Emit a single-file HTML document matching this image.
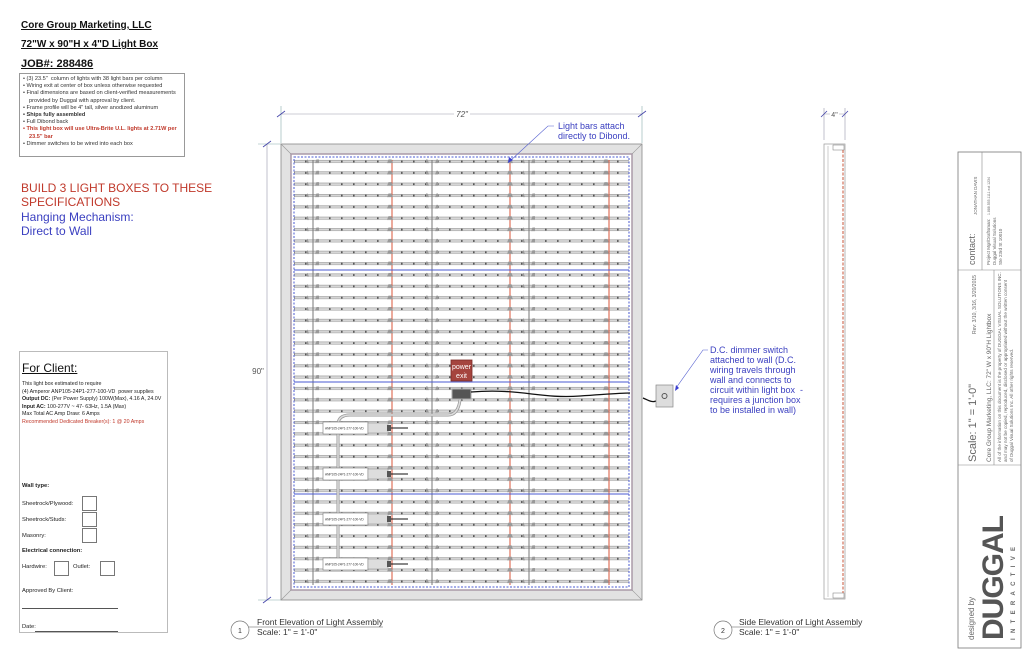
<!DOCTYPE html>
<html><head><meta charset="utf-8"><style>
html,body{margin:0;padding:0;background:#fff;}
body{width:1024px;height:663px;position:relative;overflow:hidden;font-family:"Liberation Sans",Arial,sans-serif;}
.a{position:absolute;white-space:nowrap;}
.h{font-weight:bold;font-size:10px;text-decoration:underline;color:#111;}
.spec{position:absolute;left:19px;top:73px;width:166px;height:84px;border:1px solid #999;font-size:5.6px;line-height:7.2px;color:#333;box-sizing:border-box;padding:2px 3px;}
.spec div{padding-left:6px;text-indent:-6px;}
.client{position:absolute;left:19px;top:351px;width:149px;height:282px;border:1px solid #bbb;box-sizing:border-box;font-size:5.8px;color:#222;}
.cb{position:absolute;width:15px;height:15px;border:1px solid #777;box-sizing:border-box;}
</style></head><body>
<div class="a h" style="left:21px;top:20px;">Core Group Marketing, LLC</div>
<div class="a h" style="left:21px;top:39px;">72"W x 90"H x 4"D Light Box</div>
<div class="a h" style="left:21px;top:58px;font-size:11px;">JOB#: 288486</div>
<div class="spec">
<div>• (3) 23.5"&nbsp;&nbsp;column of lights with 38 light bars per column</div>
<div>• Wiring exit at center of box unless otherwise requested</div>
<div>• Final dimensions are based on client-verified measurements provided by Duggal with approval by client.</div>
<div>• Frame profile will be 4" tall, silver anodized aluminum</div>
<div style="font-weight:bold">• Ships fully assembled</div>
<div>• Full Dibond back</div>
<div style="font-weight:bold;color:#c0392b">• This light box will use Ultra-Brite U.L. lights at 2.71W per 23.5" bar</div>
<div>• Dimmer switches to be wired into each box</div>
</div>
<div class="a" style="left:21px;top:181px;font-size:12px;line-height:14px;color:#c0392b;">BUILD 3 LIGHT BOXES TO THESE<br>SPECIFICATIONS</div>
<div class="a" style="left:21px;top:210px;font-size:12px;line-height:14px;color:#3a3fc0;">Hanging Mechanism:<br>Direct to Wall</div>

<div class="client">
<div class="a" style="left:2px;top:9px;font-size:12px;text-decoration:underline;color:#111;">For Client:</div>
<div class="a" style="left:2px;top:29px;line-height:7.5px;font-size:5.3px;">This light box estimated to require<br>(4) Amperor ANP105-24P1-277-100-VD&nbsp; power supplies<br><b>Output DC:</b> (Per Power Supply) 100W(Max), 4.16 A, 24.0V<br><b>Input AC:</b> 100-277V ~ 47- 63Hz, 1.5A (Max)<br>Max Total AC Amp Draw: 6 Amps<br><span style="color:#c0392b">Recommended Dedicated Breaker(s): 1 @ 20 Amps</span></div>
<div class="a" style="left:2px;top:131px;font-weight:bold;">Wall type:</div>
<div class="a" style="left:2px;top:149px;">Sheetrock/Plywood:</div>
<div class="a" style="left:2px;top:165px;">Sheetrock/Studs:</div>
<div class="a" style="left:2px;top:181px;">Masonry:</div>
<div class="cb" style="left:62px;top:144px;"></div>
<div class="cb" style="left:62px;top:160px;"></div>
<div class="cb" style="left:62px;top:176px;"></div>
<div class="a" style="left:2px;top:196px;font-weight:bold;">Electrical connection:</div>
<div class="a" style="left:2px;top:212px;">Hardwire:</div>
<div class="a" style="left:53px;top:212px;">Outlet:</div>
<div class="cb" style="left:34px;top:209px;"></div>
<div class="cb" style="left:80px;top:209px;"></div>
<div class="a" style="left:2px;top:236px;">Approved By Client:</div>
<div class="a" style="left:2px;top:256px;width:96px;border-top:1px solid #555;"></div>
<div class="a" style="left:2px;top:272px;">Date:</div>
<div class="a" style="left:15px;top:279px;width:83px;border-top:1px solid #555;"></div>
</div>

<svg width="1024" height="663" style="position:absolute;left:0;top:0" xmlns="http://www.w3.org/2000/svg" font-family="Liberation Sans, Arial, sans-serif">
<defs>
<pattern id="rows" x="0" y="156" width="12" height="11.35" patternUnits="userSpaceOnUse">
<rect x="0" y="4.3" width="12" height="2.4" fill="#d6d6d6"/>
<line x1="0" y1="4.3" x2="12" y2="4.3" stroke="#888" stroke-width="0.5"/>
<line x1="0" y1="6.7" x2="12" y2="6.7" stroke="#999" stroke-width="0.5"/>
<rect x="5" y="4.6" width="1.6" height="1.8" fill="#555"/>
</pattern>
<pattern id="nodes" x="0" y="156" width="12" height="11.35" patternUnits="userSpaceOnUse">
<path d="M3,7 L4.5,3.5 L7.5,3.5 L9,7 Z" fill="#999"/>
</pattern>
</defs>
<g stroke="#8aa" stroke-width="0.6" fill="none">
<line x1="281" y1="114" x2="642" y2="114" stroke="#99a"/>
<line x1="281" y1="106" x2="281" y2="143"/><line x1="642" y1="106" x2="642" y2="143"/>
<line x1="267" y1="144" x2="267" y2="600" stroke="#99a"/>
<line x1="258" y1="144" x2="281" y2="144"/><line x1="258" y1="600" x2="281" y2="600"/>
</g>
<g stroke="#44a" stroke-width="0.8"><line x1="277" y1="117" x2="285" y2="111"/><line x1="638" y1="117" x2="646" y2="111"/>
<line x1="263" y1="147" x2="271" y2="141"/><line x1="263" y1="603" x2="271" y2="597"/></g>
<rect x="454" y="109" width="16" height="9" fill="#fff"/>
<text x="462" y="117" font-size="8" fill="#555" text-anchor="middle" font-style="italic">72"</text>
<rect x="251" y="366" width="14" height="10" fill="#fff"/>
<text x="258" y="374" font-size="8" fill="#555" text-anchor="middle">90"</text>
<rect x="281" y="144" width="361" height="456" fill="#e2e2e2" stroke="#888" stroke-width="0.8"/>
<rect x="291" y="154" width="341" height="436" fill="#fff" stroke="#aa9aa8" stroke-width="1.5"/>
<g stroke="#999" stroke-width="0.6"><line x1="281" y1="144" x2="291" y2="154"/><line x1="642" y1="144" x2="632" y2="154"/><line x1="281" y1="600" x2="291" y2="590"/><line x1="642" y1="600" x2="632" y2="590"/></g>
<rect x="294" y="157" width="335" height="430" fill="url(#rows)"/>
<rect x="294" y="157" width="335" height="430" fill="none" stroke="#4a5ad0" stroke-width="1" stroke-dasharray="2,1.5"/>
<g stroke-width="1">
<line x1="313" y1="160" x2="313" y2="585" stroke="#777"/>
<line x1="432" y1="160" x2="432" y2="585" stroke="#777"/>
<line x1="529" y1="160" x2="529" y2="585" stroke="#777"/>
<line x1="392" y1="160" x2="392" y2="585" stroke="#d9553a"/>
<line x1="510" y1="160" x2="510" y2="585" stroke="#d9553a"/>
<line x1="609" y1="160" x2="609" y2="585" stroke="#d9553a"/>
</g>
<g>
<rect x="307" y="157" width="12" height="430" fill="url(#nodes)"/>
<rect x="386" y="157" width="12" height="430" fill="url(#nodes)"/>
<rect x="426" y="157" width="12" height="430" fill="url(#nodes)"/>
<rect x="504" y="157" width="12" height="430" fill="url(#nodes)"/>
<rect x="523" y="157" width="12" height="430" fill="url(#nodes)"/>
<rect x="603" y="157" width="12" height="430" fill="url(#nodes)"/>
</g>
<g stroke="#4a5ad0" stroke-width="0.9"><line x1="294" y1="270" x2="629" y2="270"/><line x1="294" y1="382" x2="629" y2="382"/><line x1="294" y1="494" x2="629" y2="494"/></g>
<path d="M338,564 L338,425 Q338,415 350,415 L448,415 Q458,415 460,400" fill="none" stroke="#999" stroke-width="3"/>
<path d="M338,564 L338,425 Q338,415 350,415 L448,415 Q458,415 460,400" fill="none" stroke="#ddd" stroke-width="1.5"/>
<g font-size="3.2" fill="#333">
<g transform="translate(0,428)"><rect x="323" y="-6" width="45" height="12" fill="#fff" stroke="#777" stroke-width="0.6"/><rect x="368" y="-5" width="20" height="10" fill="#ddd" stroke="#888" stroke-width="0.5"/><rect x="387" y="-3" width="4" height="6" fill="#555"/><line x1="391" y1="0" x2="408" y2="0" stroke="#111" stroke-width="1"/><text x="325" y="1.5">ANP105-24P1-277-100-VD</text></g>
<g transform="translate(0,474)"><rect x="323" y="-6" width="45" height="12" fill="#fff" stroke="#777" stroke-width="0.6"/><rect x="368" y="-5" width="20" height="10" fill="#ddd" stroke="#888" stroke-width="0.5"/><rect x="387" y="-3" width="4" height="6" fill="#555"/><line x1="391" y1="0" x2="408" y2="0" stroke="#111" stroke-width="1"/><text x="325" y="1.5">ANP105-24P1-277-100-VD</text></g>
<g transform="translate(0,519)"><rect x="323" y="-6" width="45" height="12" fill="#fff" stroke="#777" stroke-width="0.6"/><rect x="368" y="-5" width="20" height="10" fill="#ddd" stroke="#888" stroke-width="0.5"/><rect x="387" y="-3" width="4" height="6" fill="#555"/><line x1="391" y1="0" x2="408" y2="0" stroke="#111" stroke-width="1"/><text x="325" y="1.5">ANP105-24P1-277-100-VD</text></g>
<g transform="translate(0,564)"><rect x="323" y="-6" width="45" height="12" fill="#fff" stroke="#777" stroke-width="0.6"/><rect x="368" y="-5" width="20" height="10" fill="#ddd" stroke="#888" stroke-width="0.5"/><rect x="387" y="-3" width="4" height="6" fill="#555"/><line x1="391" y1="0" x2="408" y2="0" stroke="#111" stroke-width="1"/><text x="325" y="1.5">ANP105-24P1-277-100-VD</text></g>
</g>
<rect x="452" y="389" width="19" height="10" fill="#555" stroke="#aaa" stroke-width="1"/>
<path d="M471,392 C520,388 540,399 580,396 C610,394 620,393 630,393 M643,398 C648,400 652,403 656,401" fill="none" stroke="#111" stroke-width="1.3"/>
<rect x="451" y="360" width="21" height="21" fill="#a5443e" stroke="#7a2a25" stroke-width="0.8"/>
<text x="461.5" y="369" font-size="7" fill="#fff" text-anchor="middle">power</text>
<text x="461.5" y="378" font-size="7" fill="#fff" text-anchor="middle">exit</text>
<rect x="656" y="385" width="17" height="22" fill="#ddd" stroke="#888" stroke-width="0.7"/>
<circle cx="664.5" cy="396" r="2.5" fill="none" stroke="#555" stroke-width="1"/>
<polyline points="676,388 703,350 708,350" fill="none" stroke="#5560d0" stroke-width="0.6"/>
<path d="M675,391 L676,385 L679,388 Z" fill="#3a3fd0"/>
<text font-size="9" fill="#3a3fc0"><tspan x="710" y="353">D.C. dimmer switch</tspan><tspan x="710" y="363">attached to wall (D.C.</tspan><tspan x="710" y="373">wiring travels through</tspan><tspan x="710" y="383">wall and connects to</tspan><tspan x="710" y="393">circuit within light box&#160; -</tspan><tspan x="710" y="403">requires a junction box</tspan><tspan x="710" y="413">to be installed in wall)</tspan></text>
<polyline points="510,161 548,126 554,126" fill="none" stroke="#5560d0" stroke-width="0.6"/>
<path d="M508,163 L509,157 L513,160 Z" fill="#3a3fd0"/>
<text font-size="9" fill="#3a3fc0"><tspan x="558" y="129">Light bars attach</tspan><tspan x="558" y="139">directly to Dibond.</tspan></text>
<g stroke="#99a" stroke-width="0.6"><line x1="824" y1="114" x2="845" y2="114"/><line x1="824" y1="108" x2="824" y2="140"/><line x1="845" y1="108" x2="845" y2="140"/></g>
<g stroke="#44a" stroke-width="0.8"><line x1="821" y1="117" x2="827" y2="111"/><line x1="842" y1="117" x2="848" y2="111"/></g>
<rect x="830" y="109" width="9" height="9" fill="#fff"/>
<text x="834.5" y="117" font-size="7" fill="#555" text-anchor="middle">4"</text>
<rect x="824" y="144" width="21" height="455" fill="none" stroke="#999" stroke-width="0.7"/>
<line x1="828" y1="146" x2="828" y2="597" stroke="#aaa" stroke-width="0.6"/>
<rect x="833" y="145" width="11" height="5" fill="none" stroke="#777" stroke-width="0.5"/>
<rect x="833" y="593" width="11" height="5" fill="none" stroke="#777" stroke-width="0.5"/>
<line x1="843" y1="150" x2="843" y2="593" stroke="#c8553a" stroke-width="1" stroke-dasharray="3,1.5"/>
<circle cx="240" cy="630" r="9" fill="#fff" stroke="#777" stroke-width="0.7"/>
<text x="240" y="633" font-size="7" text-anchor="middle" fill="#333">1</text>
<line x1="249" y1="627" x2="383" y2="627" stroke="#555" stroke-width="0.6"/>
<text x="257" y="625" font-size="8.5" fill="#333">Front Elevation of Light Assembly</text>
<text x="257" y="635" font-size="8.5" fill="#333">Scale: 1" = 1'-0"</text>
<circle cx="723" cy="630" r="9" fill="#fff" stroke="#777" stroke-width="0.7"/>
<text x="723" y="633" font-size="7" text-anchor="middle" fill="#333">2</text>
<line x1="732" y1="627" x2="860" y2="627" stroke="#555" stroke-width="0.6"/>
<text x="739" y="625" font-size="8.5" fill="#333">Side Elevation of Light Assembly</text>
<text x="739" y="635" font-size="8.5" fill="#333">Scale: 1" = 1'-0"</text>
<rect x="958" y="152" width="63" height="496" fill="#fff" stroke="#777" stroke-width="0.8"/>
<g stroke="#888" stroke-width="0.6">
<line x1="958" y1="270" x2="1021" y2="270"/><line x1="958" y1="465" x2="1021" y2="465"/>
<line x1="982" y1="152" x2="982" y2="270"/><line x1="994" y1="270" x2="994" y2="465"/>
</g>
<g fill="#666">
<text transform="translate(974,640) rotate(-90)" font-size="8">designed by</text>
<text transform="translate(1003,640) rotate(-90)" font-size="30" font-weight="bold" fill="#555" letter-spacing="-1">DUGGAL</text>
<text transform="translate(1015,640) rotate(-90)" font-size="6" font-weight="bold" letter-spacing="5.3">INTERACTIVE</text>
<text transform="translate(976,462) rotate(-90)" font-size="11">Scale: 1" = 1'-0"</text>
<text transform="translate(976,334) rotate(-90)" font-size="5">Rev: 3/10, 3/16, 3/20/2015</text>
<text transform="translate(991,462) rotate(-90)" font-size="6.5">Core Group Marketing, LLC: 72" W x 90"H Lightbox</text>
<text transform="translate(1001,462) rotate(-90)" font-size="4.6">All of the information on this document is the property of DUGGAL VISUAL SOLUTIONS INC.</text>
<text transform="translate(1007,462) rotate(-90)" font-size="4.6">and may not be copied, reproduced, disclosed or appropriated without the written consent</text>
<text transform="translate(1013,462) rotate(-90)" font-size="4.6">of Duggal Visual Solutions Inc. All other rights reserved.</text>
<text transform="translate(975,265) rotate(-90)" font-size="9">contact:</text>
<text transform="translate(977,215) rotate(-90)" font-size="4.5">JONATHAN DAVIS</text>
<text transform="translate(990,265) rotate(-90)" font-size="4.5">Project Mgr/Draftsman:</text>
<text transform="translate(996,265) rotate(-90)" font-size="4.5">Duggal Visual Solutions</text>
<text transform="translate(1002,265) rotate(-90)" font-size="4.5">Ste 23rd St 10010</text>
<text transform="translate(990,215) rotate(-90)" font-size="3.5">1.888.555.1111 ext 1234</text>
</g>
</svg>
</body></html>
